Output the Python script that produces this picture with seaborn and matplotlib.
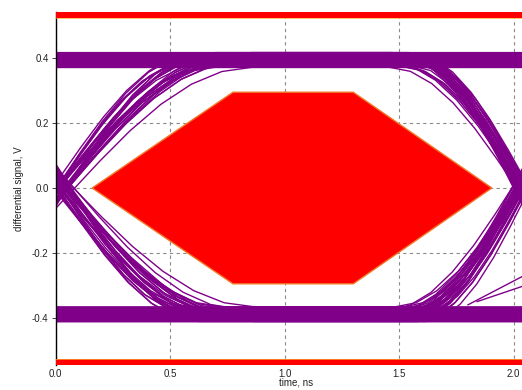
import numpy as np
import pandas as pd
import matplotlib
matplotlib.use("Agg")
import matplotlib.pyplot as plt
import seaborn as sns

# ---------------- data ----------------
# normalised edge template (time offset / half-width, shape -1..1)
edge_dt = [-1.0, -0.833, -0.667, -0.5, -0.333, -0.167, 0.0, 0.167, 0.333, 0.5, 0.667, 0.833, 1.0]
edge_shape = [-1.0, -0.966, -0.866, -0.707, -0.5, -0.259, 0.0, 0.259, 0.5, 0.707, 0.866, 0.966, 1.0]

# per-trace edge timing (ns) and levels (V)
left_cross = [0.000, 0.005, 0.010, 0.015, 0.020, 0.025, 0.030, 0.035,
              0.040, 0.045, 0.050, 0.055, 0.060, 0.065, 0.070, 0.028]
left_hw = [0.55, 0.58, 0.61, 0.64, 0.67, 0.70, 0.73, 0.76,
           0.57, 0.60, 0.63, 0.66, 0.69, 0.72, 0.75, 0.80]
right_cross = [2.000, 2.004, 2.008, 2.012, 2.016, 2.020, 2.024, 2.028,
               2.032, 2.036, 2.040, 2.044, 2.048, 2.052, 2.056, 2.060]
right_hw = [0.42, 0.43, 0.44, 0.45, 0.46, 0.47, 0.48, 0.49,
            0.50, 0.51, 0.52, 0.53, 0.54, 0.55, 0.56, 0.45]
high_levels = [0.372, 0.375, 0.378, 0.381, 0.384, 0.387, 0.390, 0.393,
               0.396, 0.399, 0.402, 0.405, 0.408, 0.411, 0.414, 0.417]
low_levels = [-0.366, -0.369, -0.372, -0.375, -0.378, -0.381, -0.384, -0.387,
              -0.390, -0.393, -0.396, -0.399, -0.402, -0.405, -0.408, -0.411]

# bit patterns (previous, current, next)
patterns = [(0, 0, 0), (0, 0, 1), (0, 1, 0), (0, 1, 1),
            (1, 0, 0), (1, 0, 1), (1, 1, 0), (1, 1, 1)]

# a few stray straight traces at lower right
glitch_t = [[1.84, 2.05], [1.80, 2.05]]
glitch_v = [[-0.350, -0.300], [-0.360, -0.268]]

# eye mask polygon and limit bands
mask_t = [0.16, 0.775, 1.30, 1.905, 1.30, 0.775]
mask_v = [0.0, 0.295, 0.295, 0.0, -0.295, -0.295]
band_limit = 0.525

x_ticks = [0.0, 0.5, 1.0, 1.5, 2.0]
x_labels = ["0.0", "0.5", "1.0", "1.5", "2.0"]
y_ticks = [-0.4, -0.2, 0.0, 0.2, 0.4]
y_labels = ["-0.4", "-0.2", "0.0", "0.2", "0.4"]

# ---------------- build traces ----------------
rows = []
tid = 0
nv = len(high_levels)
for pi, (p, c, n) in enumerate(patterns):
    for k in range(nv):
        H = high_levels[(k * 5 + pi) % nv]
        L = low_levels[(k * 3 + pi) % nv]
        mid = (H + L) / 2
        amp = (H - L) / 2
        lev = {1: H, 0: L}
        lc, lh = left_cross[(k + pi) % nv], left_hw[(k * 7) % nv]
        rc, rh = right_cross[(k * 11 + pi) % nv], right_hw[(k * 5) % nv]
        for d, s in zip(edge_dt, edge_shape):
            t = lc + d * lh
            v = lev[c] if p == c else mid + amp * s * (1 if c == 1 else -1)
            rows.append((tid, t, v))
        for d, s in zip(edge_dt, edge_shape):
            t = rc + d * rh
            v = lev[c] if c == n else mid + amp * s * (1 if n == 1 else -1)
            rows.append((tid, t, v))
        tid += 1
for gt, gv in zip(glitch_t, glitch_v):
    for t, v in zip(gt, gv):
        rows.append((tid, t, v))
    tid += 1
df = pd.DataFrame(rows, columns=["trace", "t", "v"])

# ---------------- plot ----------------
sns.set_style("white")
plt.rcParams["font.family"] = ["Liberation Sans", "DejaVu Sans"]
plt.rcParams["axes.unicode_minus"] = False

fig = plt.figure(figsize=(5.22, 3.90), dpi=100)
ax = fig.add_axes([55.5 / 522, 25 / 390, 481 / 522, 353 / 390])

purple = "#80008a"
sns.lineplot(data=df, x="t", y="v", units="trace", estimator=None, sort=False,
             color=purple, linewidth=1.0, ax=ax, zorder=2, legend=False)

ax.fill(mask_t, mask_v, facecolor="#ff0000", edgecolor="#f07828", linewidth=1.0, zorder=3)
ax.axhspan(band_limit, 0.7, color="#ff0000", zorder=3, lw=0)
ax.axhspan(-0.7, -band_limit, color="#ff0000", zorder=3, lw=0)
ax.axhline(band_limit, color="#ffb030", lw=0.5, zorder=3.5)
ax.axhline(-band_limit, color="#ffb030", lw=0.5, zorder=3.5)

ax.set_xlim(0, 2.1)
ax.set_ylim(-0.545, 0.542)
ax.set_xticks(x_ticks)
ax.set_xticklabels(x_labels)
ax.set_yticks(y_ticks)
ax.set_yticklabels(y_labels)
ax.grid(True, color="#8a8a8a", linestyle=(0, (3, 3)), linewidth=0.8, zorder=1)
ax.set_axisbelow(True)
ax.tick_params(axis="x", labelsize=7, colors="#222222", length=0, pad=3)
ax.tick_params(axis="y", labelsize=7, colors="#222222", length=3, width=0.6,
               direction="out", left=True, pad=2)
for s in ["top", "right"]:
    ax.spines[s].set_visible(False)
ax.spines["left"].set_color("black")
ax.spines["left"].set_linewidth(1.0)
ax.spines["bottom"].set_visible(False)

ax.set_xlabel("time, ns", fontsize=7, labelpad=-1, color="#222222")
ax.set_ylabel("differential signal, V", fontsize=7, labelpad=6, color="#222222")

fig.savefig("out.png", dpi=100)
